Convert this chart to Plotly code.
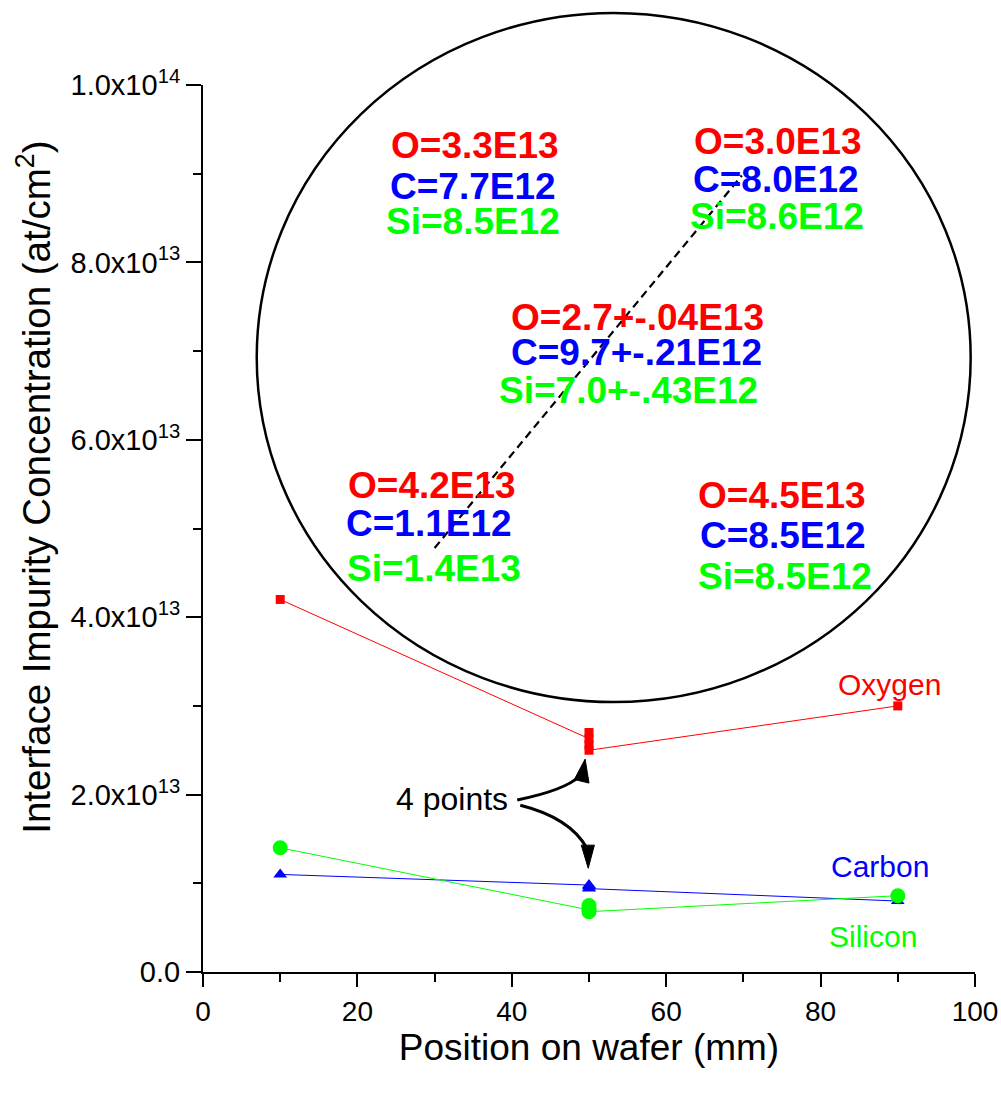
import plotly.graph_objects as go

# Position on wafer (mm); the centre site was measured four times
pos_oxygen = [10, 50, 50, 50, 50, 90]
pos_carbon = [10, 50, 50, 50, 50, 90]
pos_silicon = [10, 50, 50, 50, 50, 90]

# Interface impurity concentration (at/cm^2)
oxygen = [4.2e13, 2.63e13, 2.70e13, 2.56e13, 2.50e13, 3.0e13]
carbon = [1.1e13, 0.98e13, 0.97e13, 0.95e13, 0.94e13, 0.80e13]
silicon = [1.4e13, 0.70e13, 0.75e13, 0.72e13, 0.68e13, 0.86e13]

x_ticks = [0, 20, 40, 60, 80, 100]
y_ticks = [0, 2e13, 4e13, 6e13, 8e13, 1e14]
y_ticktext = ["0.0", "2.0x10<sup>13</sup>", "4.0x10<sup>13</sup>",
              "6.0x10<sup>13</sup>", "8.0x10<sup>13</sup>", "1.0x10<sup>14</sup>"]

# Wafer map: site values written at their positions on the wafer
site_labels = [
    # (x mm, y, text, colour)
    (35.2, 9.32e13, "O=3.3E13", "#ff0000"),
    (35.0, 8.86e13, "C=7.7E12", "#0000ff"),
    (35.0, 8.46e13, "Si=8.5E12", "#00ff00"),
    (74.5, 9.36e13, "O=3.0E13", "#ff0000"),
    (74.2, 8.93e13, "C=8.0E12", "#0000ff"),
    (74.3, 8.52e13, "Si=8.6E12", "#00ff00"),
    (56.3, 7.38e13, "O=2.7+-.04E13", "#ff0000"),
    (56.2, 6.98e13, "C=9.7+-.21E12", "#0000ff"),
    (55.1, 6.56e13, "Si=7.0+-.43E12", "#00ff00"),
    (29.7, 5.49e13, "O=4.2E13", "#ff0000"),
    (29.3, 5.06e13, "C=1.1E12", "#0000ff"),
    (29.9, 4.55e13, "Si=1.4E13", "#00ff00"),
    (75.0, 5.37e13, "O=4.5E13", "#ff0000"),
    (75.1, 4.92e13, "C=8.5E12", "#0000ff"),
    (75.4, 4.46e13, "Si=8.5E12", "#00ff00"),
]

X_MAX = 100.0
Y_MAX = 1e14


def to_paper(xv, yv):
    """Data units -> paper fractions (axes span exactly 0..X_MAX, 0..Y_MAX)."""
    return xv / X_MAX, yv / Y_MAX


def path(points, cmd):
    parts = []
    for c, (xv, yv) in zip(cmd, points):
        px, py = to_paper(xv, yv)
        parts.append(f"{c} {px:.5f},{py:.5f}")
    return " ".join(parts)


FONT = "Liberation Sans, Arial, sans-serif"

fig = go.Figure()

fig.add_trace(go.Scatter(
    x=pos_oxygen, y=oxygen, mode="lines+markers", name="Oxygen",
    line=dict(color="#ff0000", width=1),
    marker=dict(symbol="square", size=9, color="#ff0000"),
))
fig.add_trace(go.Scatter(
    x=pos_carbon, y=carbon, mode="lines+markers", name="Carbon",
    line=dict(color="#0000ff", width=1),
    marker=dict(symbol="triangle-up", size=12, color="#0000ff"),
))
fig.add_trace(go.Scatter(
    x=pos_silicon, y=silicon, mode="lines+markers", name="Silicon",
    line=dict(color="#00ff00", width=1),
    marker=dict(symbol="circle", size=15, color="#00ff00"),
))

shapes = []

# Wafer outline (drawn in paper space so it can rise above the plot area)
cx, cy = to_paper(53.2, 6.928e13)
rx, ry = 0.4624, 0.3884
shapes.append(dict(type="circle", xref="paper", yref="paper",
                   x0=cx - rx, x1=cx + rx, y0=cy - ry, y1=cy + ry,
                   line=dict(color="black", width=2.5), layer="above"))

# Measurement diagonal across the wafer
shapes.append(dict(type="line", xref="x", yref="y",
                   x0=30.0, y0=4.78e13, x1=69.8, y1=8.98e13,
                   line=dict(color="black", width=2.2, dash="8px,5px"), layer="above"))

# Curved pointers from "4 points" to the repeated centre measurements
shapes.append(dict(type="path", xref="paper", yref="paper",
                   path=path([(40.7, 1.94e13), (46.9, 2.05e13), (48.8, 2.21e13)], ["M", "Q", ""]),
                   line=dict(color="black", width=3)))
shapes.append(dict(type="path", xref="paper", yref="paper",
                   path=path([(49.5, 2.40e13), (48.1, 2.17e13), (50.0, 2.13e13)], ["M", "L", "L"]) + " Z",
                   fillcolor="black", line=dict(color="black", width=1)))
shapes.append(dict(type="path", xref="paper", yref="paper",
                   path=path([(41.1, 1.88e13), (47.5, 1.74e13), (49.7, 1.40e13)], ["M", "Q", ""]),
                   line=dict(color="black", width=3)))
shapes.append(dict(type="path", xref="paper", yref="paper",
                   path=path([(49.9, 1.17e13), (49.0, 1.43e13), (50.7, 1.43e13)], ["M", "L", "L"]) + " Z",
                   fillcolor="black", line=dict(color="black", width=1)))

annotations = []
for xv, yv, txt, col in site_labels:
    annotations.append(dict(x=xv, y=yv, xref="x", yref="y", text=f"<b>{txt}</b>",
                            showarrow=False, xanchor="center", yanchor="middle",
                            font=dict(family=FONT, size=37, color=col)))

# Series names next to the curves
for xv, yv, txt, col in [(88.9, 3.24e13, "Oxygen", "#ff0000"),
                         (87.7, 1.19e13, "Carbon", "#0000ff"),
                         (86.8, 0.40e13, "Silicon", "#00ff00")]:
    annotations.append(dict(x=xv, y=yv, xref="x", yref="y", text=txt, showarrow=False,
                            xanchor="center", yanchor="middle",
                            font=dict(family=FONT, size=30, color=col)))

annotations.append(dict(x=32.3, y=1.95e13, xref="x", yref="y", text="4 points",
                        showarrow=False, xanchor="center", yanchor="middle",
                        font=dict(family=FONT, size=32, color="black")))

# Y-axis title, placed as rotated text beside the tick labels
annotations.append(dict(x=-0.219, y=0.547, xref="paper", yref="paper",
                        text="Interface Impurity Concentration (at/cm<sup>2</sup>)",
                        textangle=-90, showarrow=False, xanchor="center", yanchor="middle",
                        font=dict(family=FONT, size=38.5, color="black")))

fig.update_layout(
    width=1001, height=1093,
    margin=dict(l=203, r=26, t=85, b=121, autoexpand=False),
    paper_bgcolor="white", plot_bgcolor="white",
    showlegend=False,
    font=dict(family=FONT, color="black"),
    shapes=shapes, annotations=annotations,
)

fig.update_xaxes(
    range=[0, X_MAX], tickvals=x_ticks, ticks="outside", ticklen=13, tickwidth=2,
    tickcolor="black", showline=True, linecolor="black", linewidth=2,
    showgrid=False, zeroline=False, tickfont=dict(size=28),
    minor=dict(dtick=10, ticks="outside", ticklen=8, tickwidth=2, tickcolor="black", showgrid=False),
    title=dict(text="Position on wafer (mm)", font=dict(size=37), standoff=6),
)
fig.update_yaxes(
    range=[0, Y_MAX], tickvals=y_ticks, ticktext=y_ticktext, ticks="outside",
    ticklen=15, tickwidth=2, tickcolor="black", showline=True, linecolor="black",
    linewidth=2, showgrid=False, zeroline=False, tickfont=dict(size=29),
    minor=dict(dtick=1e13, ticks="outside", ticklen=8, tickwidth=2, tickcolor="black", showgrid=False),
)

fig.write_html("out.html")
